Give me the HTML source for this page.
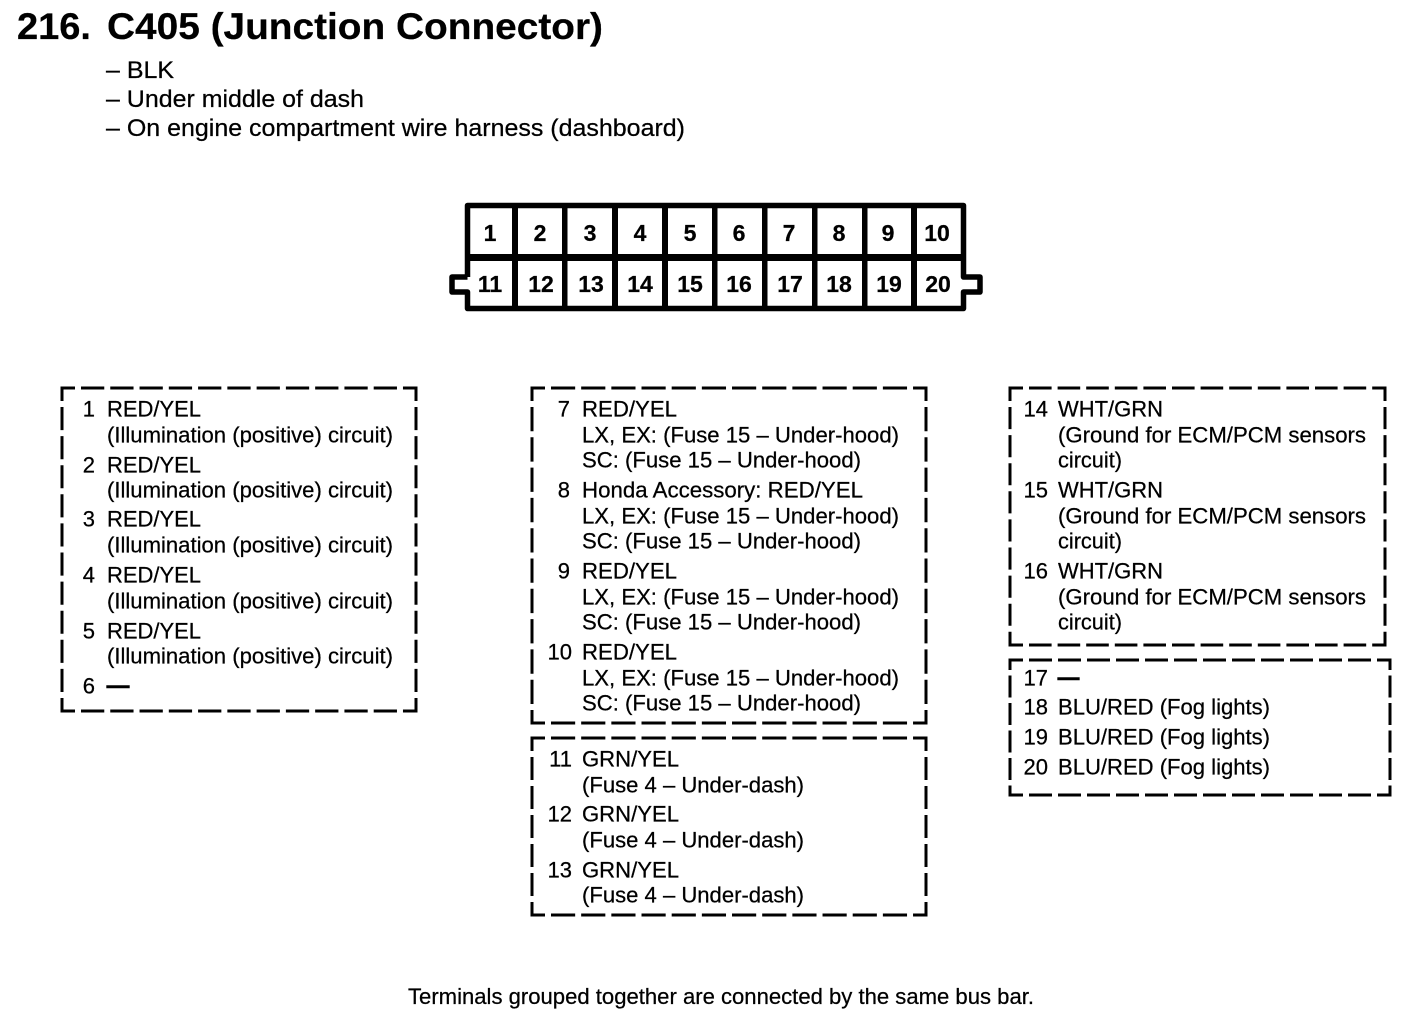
<!DOCTYPE html>
<html>
<head>
<meta charset="utf-8">
<style>
html,body{margin:0;padding:0;background:#fff;width:1408px;height:1022px;overflow:hidden}
svg{display:block}
text{font-family:"Liberation Sans",sans-serif;fill:#000;stroke:#000;stroke-width:.25}
.t{font-size:22px}
.s{font-size:24px}
.n{font-size:22px;text-anchor:end}
.b{font-weight:bold;font-size:23px;text-anchor:middle}
.d{stroke-width:1.4}
.box path{fill:none;stroke:#000;stroke-width:3;stroke-linecap:square}
</style>
</head>
<body>
<svg width="1408" height="1022" viewBox="0 0 1408 1022" xmlns="http://www.w3.org/2000/svg">
<text x="17" y="39" font-size="37" font-weight="bold" textLength="74" lengthAdjust="spacingAndGlyphs">216.</text>
<text x="107" y="39" font-size="37" font-weight="bold" textLength="496" lengthAdjust="spacingAndGlyphs">C405 (Junction Connector)</text>
<text class="s" x="106" y="78" textLength="68" lengthAdjust="spacingAndGlyphs">– BLK</text>
<text class="s" x="106" y="107" textLength="258" lengthAdjust="spacingAndGlyphs">– Under middle of dash</text>
<text class="s" x="106" y="136" textLength="579" lengthAdjust="spacingAndGlyphs">– On engine compartment wire harness (dashboard)</text>

<!-- connector -->
<g fill="none" stroke="#000" stroke-width="5.5" stroke-linejoin="round">
<path d="M467.5 277V205.5H963.5V277H980V292H963.5V308.5H467.5V292H452V277H467.5"/>
</g>
<rect x="465" y="254" width="501" height="7"/>
<rect x="512" y="205" width="6" height="103"/>
<rect x="562" y="205" width="5.5" height="103"/>
<rect x="612" y="205" width="6" height="103"/>
<rect x="662" y="205" width="6" height="103"/>
<rect x="712" y="205" width="5.5" height="103"/>
<rect x="762" y="205" width="5.5" height="103"/>
<rect x="812" y="205" width="5.5" height="103"/>
<rect x="862" y="205" width="5.5" height="103"/>
<rect x="911" y="205" width="6" height="103"/>
<g>
<text class="b" x="490" y="241">1</text><text class="b" x="540" y="241">2</text><text class="b" x="590" y="241">3</text><text class="b" x="640" y="241">4</text><text class="b" x="690" y="241">5</text><text class="b" x="739" y="241">6</text><text class="b" x="789" y="241">7</text><text class="b" x="839" y="241">8</text><text class="b" x="888" y="241">9</text><text class="b" x="937" y="241">10</text>
<text class="b" x="490" y="292">11</text><text class="b" x="541" y="292">12</text><text class="b" x="591" y="292">13</text><text class="b" x="640" y="292">14</text><text class="b" x="690" y="292">15</text><text class="b" x="739" y="292">16</text><text class="b" x="790" y="292">17</text><text class="b" x="839" y="292">18</text><text class="b" x="889" y="292">19</text><text class="b" x="938" y="292">20</text>
</g>

<!-- box 1 -->
<g class="box">
<path d="M62 388H416M62 711H416" stroke-dasharray="20.27 9" stroke-dashoffset="8.77"/>
<path d="M62 388V711M416 388V711" stroke-dasharray="20.1 9" stroke-dashoffset="8.6"/>
</g>
<g transform="translate(0,-0.5)">
<text class="n" x="95" y="417">1</text><text class="t" x="107" y="417" textLength="94" lengthAdjust="spacingAndGlyphs">RED/YEL</text>
<text class="t" x="107" y="443" textLength="286" lengthAdjust="spacingAndGlyphs">(Illumination (positive) circuit)</text>
<text class="n" x="95" y="473">2</text><text class="t" x="107" y="473" textLength="94" lengthAdjust="spacingAndGlyphs">RED/YEL</text>
<text class="t" x="107" y="498" textLength="286" lengthAdjust="spacingAndGlyphs">(Illumination (positive) circuit)</text>
<text class="n" x="95" y="527">3</text><text class="t" x="107" y="527" textLength="94" lengthAdjust="spacingAndGlyphs">RED/YEL</text>
<text class="t" x="107" y="553" textLength="286" lengthAdjust="spacingAndGlyphs">(Illumination (positive) circuit)</text>
<text class="n" x="95" y="583">4</text><text class="t" x="107" y="583" textLength="94" lengthAdjust="spacingAndGlyphs">RED/YEL</text>
<text class="t" x="107" y="609" textLength="286" lengthAdjust="spacingAndGlyphs">(Illumination (positive) circuit)</text>
<text class="n" x="95" y="639">5</text><text class="t" x="107" y="639" textLength="94" lengthAdjust="spacingAndGlyphs">RED/YEL</text>
<text class="t" x="107" y="664" textLength="286" lengthAdjust="spacingAndGlyphs">(Illumination (positive) circuit)</text>
<text class="n" x="95" y="694">6</text><text class="t d" x="107" y="693" textLength="22" lengthAdjust="spacingAndGlyphs">—</text>
</g>

<!-- box 2 -->
<g class="box">
<path d="M532 388H926M532 723H926" stroke-dasharray="21.17 9" stroke-dashoffset="9.67"/>
<path d="M532 388V723M926 388V723" stroke-dasharray="21.3 9" stroke-dashoffset="9.8"/>
</g>
<g transform="translate(0,-0.5)">
<text class="n" x="570" y="417">7</text><text class="t" x="582" y="417" textLength="95" lengthAdjust="spacingAndGlyphs">RED/YEL</text>
<text class="t" x="582" y="443" textLength="317" lengthAdjust="spacingAndGlyphs">LX, EX: (Fuse 15 – Under-hood)</text>
<text class="t" x="582" y="468" textLength="279" lengthAdjust="spacingAndGlyphs">SC: (Fuse 15 – Under-hood)</text>
<text class="n" x="570" y="498">8</text><text class="t" x="582" y="498" textLength="281" lengthAdjust="spacingAndGlyphs">Honda Accessory: RED/YEL</text>
<text class="t" x="582" y="524" textLength="317" lengthAdjust="spacingAndGlyphs">LX, EX: (Fuse 15 – Under-hood)</text>
<text class="t" x="582" y="549" textLength="279" lengthAdjust="spacingAndGlyphs">SC: (Fuse 15 – Under-hood)</text>
<text class="n" x="570" y="579">9</text><text class="t" x="582" y="579" textLength="95" lengthAdjust="spacingAndGlyphs">RED/YEL</text>
<text class="t" x="582" y="605" textLength="317" lengthAdjust="spacingAndGlyphs">LX, EX: (Fuse 15 – Under-hood)</text>
<text class="t" x="582" y="630" textLength="279" lengthAdjust="spacingAndGlyphs">SC: (Fuse 15 – Under-hood)</text>
<text class="n" x="572" y="660">10</text><text class="t" x="582" y="660" textLength="95" lengthAdjust="spacingAndGlyphs">RED/YEL</text>
<text class="t" x="582" y="686" textLength="317" lengthAdjust="spacingAndGlyphs">LX, EX: (Fuse 15 – Under-hood)</text>
<text class="t" x="582" y="711" textLength="279" lengthAdjust="spacingAndGlyphs">SC: (Fuse 15 – Under-hood)</text>
</g>

<!-- box 3 -->
<g class="box">
<path d="M532 738H926M532 915H926" stroke-dasharray="21.17 9" stroke-dashoffset="9.67"/>
<path d="M532 738V915M926 738V915" stroke-dasharray="20 9" stroke-dashoffset="8.5"/>
</g>
<g transform="translate(0,-0.5)">
<text class="n" x="572" y="767">11</text><text class="t" x="582" y="767" textLength="97" lengthAdjust="spacingAndGlyphs">GRN/YEL</text>
<text class="t" x="582" y="793" textLength="222" lengthAdjust="spacingAndGlyphs">(Fuse 4 – Under-dash)</text>
<text class="n" x="572" y="822">12</text><text class="t" x="582" y="822" textLength="97" lengthAdjust="spacingAndGlyphs">GRN/YEL</text>
<text class="t" x="582" y="848" textLength="222" lengthAdjust="spacingAndGlyphs">(Fuse 4 – Under-dash)</text>
<text class="n" x="572" y="878">13</text><text class="t" x="582" y="878" textLength="97" lengthAdjust="spacingAndGlyphs">GRN/YEL</text>
<text class="t" x="582" y="903" textLength="222" lengthAdjust="spacingAndGlyphs">(Fuse 4 – Under-dash)</text>
</g>

<!-- box 4 -->
<g class="box">
<path d="M1010 388H1385M1010 645H1385" stroke-dasharray="19.6 9" stroke-dashoffset="8.1"/>
<path d="M1010 388V645M1385 388V645" stroke-dasharray="19.1 9" stroke-dashoffset="7.6"/>
</g>
<g transform="translate(0,-0.5)">
<text class="n" x="1048" y="417">14</text><text class="t" x="1058" y="417" textLength="105" lengthAdjust="spacingAndGlyphs">WHT/GRN</text>
<text class="t" x="1058" y="443" textLength="308" lengthAdjust="spacingAndGlyphs">(Ground for ECM/PCM sensors</text>
<text class="t" x="1058" y="468" textLength="64" lengthAdjust="spacingAndGlyphs">circuit)</text>
<text class="n" x="1048" y="498">15</text><text class="t" x="1058" y="498" textLength="105" lengthAdjust="spacingAndGlyphs">WHT/GRN</text>
<text class="t" x="1058" y="524" textLength="308" lengthAdjust="spacingAndGlyphs">(Ground for ECM/PCM sensors</text>
<text class="t" x="1058" y="549" textLength="64" lengthAdjust="spacingAndGlyphs">circuit)</text>
<text class="n" x="1048" y="579">16</text><text class="t" x="1058" y="579" textLength="105" lengthAdjust="spacingAndGlyphs">WHT/GRN</text>
<text class="t" x="1058" y="605" textLength="308" lengthAdjust="spacingAndGlyphs">(Ground for ECM/PCM sensors</text>
<text class="t" x="1058" y="630" textLength="64" lengthAdjust="spacingAndGlyphs">circuit)</text>
</g>

<!-- box 5 -->
<g class="box">
<path d="M1010 660H1390M1010 795H1390" stroke-dasharray="20 9" stroke-dashoffset="8.5"/>
<path d="M1010 660V795M1390 660V795" stroke-dasharray="19 8.5" stroke-dashoffset="10.5"/>
</g>
<g transform="translate(0,-0.5)">
<text class="n" x="1048" y="686">17</text><text class="t d" x="1058" y="685" textLength="21" lengthAdjust="spacingAndGlyphs">—</text>
<text class="n" x="1048" y="715">18</text><text class="t" x="1058" y="715" textLength="212" lengthAdjust="spacingAndGlyphs">BLU/RED (Fog lights)</text>
<text class="n" x="1048" y="745">19</text><text class="t" x="1058" y="745" textLength="212" lengthAdjust="spacingAndGlyphs">BLU/RED (Fog lights)</text>
<text class="n" x="1048" y="775">20</text><text class="t" x="1058" y="775" textLength="212" lengthAdjust="spacingAndGlyphs">BLU/RED (Fog lights)</text>
</g>

<text x="408" y="1004" font-size="22" textLength="626" lengthAdjust="spacingAndGlyphs">Terminals grouped together are connected by the same bus bar.</text>
</svg>
</body>
</html>
